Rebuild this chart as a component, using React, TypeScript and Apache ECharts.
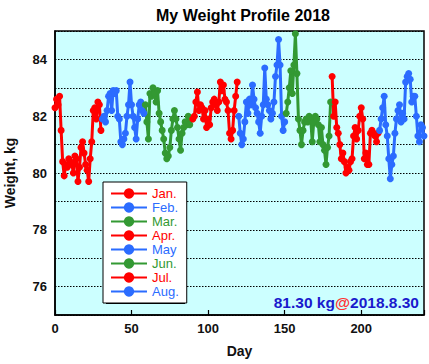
import React, { useEffect, useRef } from "react";
import * as echarts from "echarts";

const monthNames = ["Jan.", "Feb.", "Mar.", "Apr.", "May", "Jun.", "Jul.", "Aug."];
const monthColors = ["#ff0000", "#2b6cff", "#339933", "#ff0000", "#2b6cff", "#339933", "#ff0000", "#2b6cff"];
const monthStartDays = [0, 31, 59, 90, 120, 151, 181, 212];

const janW = [82.3, 82.6, 82.4, 82.7, 81.5, 80.4, 79.9, 80.3, 80.2, 80.5, 80.4, 80.3, 80.0, 80.6, 80.5, 79.7, 80.2, 80.9, 81.1, 80.7, 80.3, 80.1, 79.7, 80.5, 81.1, 82.2, 82.3, 81.9, 82.5, 82.4, 81.5];
const febW = [81.9, 82.0, 81.8, 82.2, 82.7, 82.8, 82.2, 82.9, 82.8, 82.9, 82.0, 81.9, 81.1, 81.0, 81.2, 81.4, 82.0, 82.4, 83.2, 82.4, 82.0, 81.6, 81.2, 81.9, 82.4, 82.5, 82.2, 82.1];
const marW = [82.4, 81.8, 81.2, 82.8, 82.7, 83.0, 82.8, 82.5, 82.9, 82.1, 81.8, 81.5, 81.2, 80.7, 80.5, 80.6, 80.9, 81.5, 81.9, 82.2, 81.9, 81.6, 81.2, 80.8, 81.4, 81.6, 81.8, 81.7, 82.0, 81.7, 81.9];
const aprW = [81.9, 82.0, 82.5, 82.85, 82.2, 82.4, 82.3, 81.9, 82.2, 81.6, 81.9, 81.7, 82.3, 82.5, 82.6, 82.4, 82.2, 82.5, 83.2, 82.9, 83.1, 82.6, 82.5, 82.2, 81.4, 81.2, 81.5, 82.2, 82.7, 83.2];
const mayW = [82.0, 81.4, 81.0, 81.2, 81.8, 82.5, 82.1, 82.6, 82.4, 83.1, 82.6, 82.3, 82.1, 81.8, 81.4, 82.0, 82.4, 83.7, 82.6, 82.4, 82.2, 81.9, 82.1, 82.5, 83.4, 83.8, 84.7, 83.8, 82.0, 81.5, 81.8];
const junW = [82.1, 82.5, 83.0, 83.6, 82.8, 83.8, 84.9, 83.5, 81.9, 81.5, 81.0, 81.5, 81.8, 81.9, 81.8, 82.0, 81.9, 81.1, 81.8, 82.0, 81.9, 81.7, 81.1, 81.6, 81.0, 80.8, 80.3, 80.9, 81.3, 82.5];
const julW = [83.4, 82.0, 82.5, 81.6, 81.4, 81.0, 80.5, 80.7, 80.4, 80.0, 80.2, 80.1, 80.4, 80.5, 81.3, 81.6, 81.2, 81.5, 82.0, 82.3, 81.9, 80.5, 80.7, 80.3, 80.3, 81.4, 81.5, 81.4, 81.3, 81.1, 81.4];
const augW = [81.5, 81.9, 82.3, 82.7, 81.7, 81.3, 80.5, 79.8, 80.3, 80.6, 81.4, 81.9, 82.2, 82.4, 81.8, 82.1, 81.9, 83.2, 83.4, 83.5, 83.3, 82.5, 82.7, 82.7, 82.0, 81.3, 81.1, 81.7, 81.6, 81.3];

const monthValues = [janW, febW, marW, aprW, mayW, junW, julW, augW];

const xTicks = { min: 0, max: 241, interval: 50 };
const yTicks = { min: 75, max: 85, interval: 1 };
const latestWeight = "81.30 kg";
const latestDate = "2018.8.30";

const FONT = "Liberation Sans, Arial, Helvetica, sans-serif";

export default function App() {
  const ref = useRef<HTMLDivElement>(null);
  useEffect(() => {
    if (!ref.current) return;
    const chart = echarts.init(ref.current, null, { renderer: "svg" });
    const series = monthNames.map((name, m) => ({
      name,
      type: "line",
      data: monthValues[m].map((v, i) => [monthStartDays[m] + i, v]),
      symbol: "circle",
      symbolSize: 7,
      showSymbol: true,
      color: monthColors[m],
      lineStyle: { width: 3, color: monthColors[m] },
      itemStyle: { color: monthColors[m] },
      z: 3,
    }));
    chart.setOption({
      animation: false,
      textStyle: { fontFamily: FONT },
      title: {
        text: "My Weight Profile 2018",
        left: 238,
        textAlign: "center",
        top: 2,
        textStyle: { fontSize: 16, fontWeight: "bold", color: "#000", fontFamily: FONT },
      },
      grid: {
        left: 55,
        right: 5,
        top: 31,
        bottom: 49,
        outerBoundsMode: "none",
        containLabel: false,
        show: true,
        backgroundColor: "#ccffff",
        borderColor: "#000",
        borderWidth: 1.5,
      },
      xAxis: {
        type: "value",
        min: xTicks.min,
        max: xTicks.max,
        interval: xTicks.interval,
        name: "Day",
        nameLocation: "middle",
        nameGap: 29,
        nameTextStyle: { fontSize: 14, fontWeight: "bold", color: "#111", fontFamily: FONT },
        axisLine: { show: true, lineStyle: { color: "#000", width: 1.5 } },
        axisTick: { show: true, inside: true, length: 5, lineStyle: { color: "#000", width: 1.2 } },
        axisLabel: {
          fontSize: 13,
          fontWeight: "bold",
          color: "#111",
          margin: 7,
          fontFamily: FONT,
          formatter: (v: number) => (v % 50 === 0 ? String(v) : ""),
        },
        splitLine: { show: false },
      },
      yAxis: {
        type: "value",
        min: yTicks.min,
        max: yTicks.max,
        interval: yTicks.interval,
        name: "Weight, kg",
        nameLocation: "middle",
        nameGap: 38,
        nameTextStyle: { fontSize: 14, fontWeight: "bold", color: "#111", fontFamily: FONT },
        axisLine: { show: true, lineStyle: { color: "#000", width: 1.5 } },
        axisTick: { show: false },
        axisLabel: {
          fontSize: 13,
          fontWeight: "bold",
          color: "#111",
          margin: 8,
          fontFamily: FONT,
          formatter: (v: number) => (v % 2 === 0 && v > 75 && v < 85 ? String(v) : ""),
        },
        splitLine: { show: true, lineStyle: { color: "#000", type: [1.5, 1.5], width: 1 } },
      },
      legend: {
        orient: "vertical",
        left: 103,
        top: 182,
        padding: [5, 8, 5, 7],
        itemWidth: 36,
        itemHeight: 13,
        itemGap: 1,
        backgroundColor: "#fff",
        borderColor: "#000",
        borderWidth: 1,
        z: 10,
        textStyle: { fontSize: 13, lineHeight: 13, fontFamily: FONT },
        data: monthNames.map((n, i) => ({
          name: n,
          textStyle: { color: monthColors[i], fontSize: 13, lineHeight: 13, fontFamily: FONT },
        })),
      },
      graphic: [
        {
          type: "rect",
          shape: { x: 106, y: 185, width: 79, height: 119 },
          style: { fill: "#000" },
          z: 5,
          silent: true,
        },
        {
          type: "text",
          right: 10,
          top: 294,
          z: 20,
          style: {
            text: `{a|${latestWeight}}{b|@}{a|${latestDate}}`,
            rich: {
              a: { fill: "#1a1acd", fontSize: 15.5, fontWeight: "bold", fontFamily: FONT },
              b: { fill: "#ff3333", fontSize: 15.5, fontWeight: "bold", fontFamily: FONT },
            },
          },
        },
      ],
      series,
    });
    return () => chart.dispose();
  }, []);
  return (
    <div
      ref={ref}
      style={{ position: "fixed", left: 0, top: 0, width: 429, height: 364, background: "#fff" }}
    />
  );
}
